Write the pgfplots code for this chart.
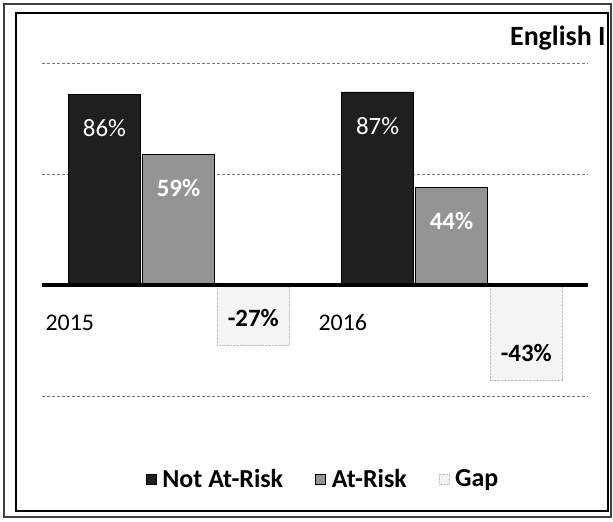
\documentclass[border=0pt]{standalone}
\usepackage{pgfplots}
\pgfplotsset{compat=1.18}
\usepackage{fontspec}
\setmainfont{Carlito}
\begin{document}
\begin{tikzpicture}[x=1bp,y=1bp]
\useasboundingbox (0,0) rectangle (613,522);
\begin{axis}[
  at={(42bp,126bp)}, anchor=south west,
  width=546bp, height=333bp, scale only axis,
  xmin=-0.5, xmax=1.5, ymin=-50, ymax=100,
  axis line style={draw=none},
  xtick=\empty, ytick={-50,50,100}, yticklabels={},
  major tick length=0pt,
  ymajorgrids, grid style={black!55, dash pattern=on 3bp off 2bp, line width=0.7bp},
  clip=false,
  ybar, bar width=0.264,
  legend columns=3,
  legend style={at={(axis description cs:0.515,-0.249)}, anchor=center, draw=none, fill=none,
    font=\bfseries\fontsize{26}{30}\selectfont,
    /tikz/every odd column/.append style={column sep=4bp},
    /tikz/every even column/.append style={column sep=30bp}},
  legend image code/.code={\draw[#1] (0bp,-5bp) rectangle (10bp,5bp);},
  nodes near coords={\pgfplotspointmeta},
  point meta=explicit symbolic,
]
\addplot[bar shift=0pt, fill=black!88, draw=black,
  every node near coord/.append style={anchor=center, yshift=-34bp, text=white, font=\fontsize{25}{30}\selectfont}]
  coordinates {(-0.271,86) [86\%] (0.729,87) [87\%]};
\addlegendentry{Not At-Risk}
\addplot[bar shift=0pt, fill=black!42, draw=black, line width=0.8bp,
  every node near coord/.append style={anchor=center, yshift=-34bp, text=white, font=\bfseries\fontsize{25}{30}\selectfont}]
  coordinates {(0,59) [59\%] (1,44) [44\%]};
\addlegendentry{At-Risk}
\addplot[bar shift=0pt, fill=black!4, draw=black!25, densely dotted,
  every node near coord/.append style={anchor=center, yshift=27bp, text=black, font=\bfseries\fontsize{25}{30}\selectfont}]
  coordinates {(0.274,-27) [-27\%] (1.274,-43) [-43\%]};
\addlegendentry{Gap}
\addplot[sharp plot, black, line width=3.5bp, forget plot, nodes near coords={}] coordinates {(-0.5,0) (1.5,0)};
\node[anchor=west, font=\fontsize{24}{28}\selectfont] at (axis cs:-0.5,-17) {2015};
\node[anchor=west, font=\fontsize{24}{28}\selectfont] at (axis cs:0.5,-17) {2016};
\end{axis}
\node[anchor=east, font=\bfseries\fontsize{28}{32}\selectfont] at (609,484) {English I};
\draw[black!75, line width=2.5bp] (4,5) rectangle (611,518);
\draw[black, line width=2bp] (16,11) rectangle (608,509);
\end{tikzpicture}
\end{document}
